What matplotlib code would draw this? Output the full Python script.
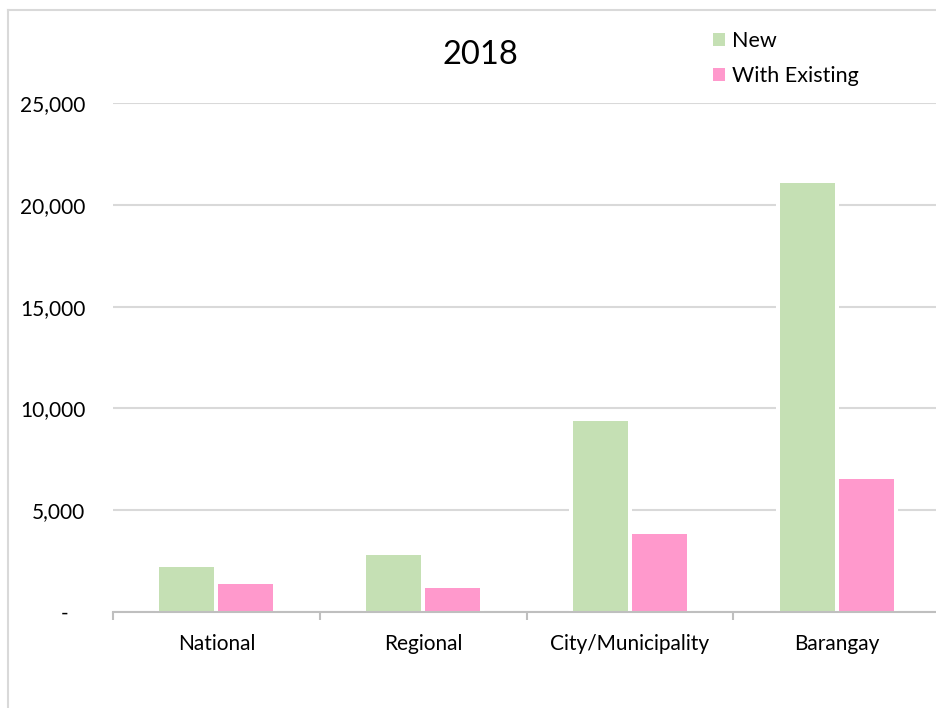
import matplotlib.pyplot as plt
import numpy as np
from matplotlib.lines import Line2D

plt.rcParams['font.family'] = ['Lato', 'DejaVu Sans']

categories = ["National", "Regional", "City/Municipality", "Barangay"]
new_vals = [2210, 2800, 9380, 21070]
existing_vals = [1375, 1180, 3830, 6530]
series_names = ["New", "With Existing"]
y_ticks = [0, 5000, 10000, 15000, 20000, 25000]

green = "#C5E0B4"
pink = "#FF99CC"
grid_col = "#D9D9D9"

W, H = 936, 708
fig = plt.figure(figsize=(W / 100, H / 100), dpi=100)

# plot area in pixels: x 113..940, y 103..612
ax = fig.add_axes([113 / W, (H - 612) / H, 827 / W, (612 - 103) / H])

px = 827 / 4  # pixels per category
fill_w = 55 / px
halo_w = 63 / px
off = 29.5 / px
pad = 4 / (509 / 25000)

x = np.arange(len(categories))
for vals, color, sign, name in [(new_vals, green, -1, series_names[0]),
                                (existing_vals, pink, 1, series_names[1])]:
    # white halo so gridlines break around the bars
    ax.bar(x + sign * off, np.array(vals) + pad, width=halo_w, color='white',
           edgecolor='none', zorder=2)
    ax.bar(x + sign * off, vals, width=fill_w, color=color, edgecolor='none',
           zorder=3, label=name)

ax.set_xlim(-0.5, 3.5)
ax.set_ylim(0, 25000)
ax.set_yticks(y_ticks)
ax.set_yticklabels(["-   "] + [f"{v:,}" for v in y_ticks[1:]])
ax.yaxis.grid(True, color=grid_col, linewidth=1.5, zorder=1)
ax.set_axisbelow(True)

ax.set_xticks(x)
ax.set_xticklabels(categories)
ax.set_xticks(np.arange(-0.5, 4, 1), minor=True)
ax.tick_params(axis='x', which='major', length=0, pad=16, labelsize=15)
ax.tick_params(axis='x', which='minor', length=6, width=1.5, color="#BFBFBF",
               direction='out')
ax.tick_params(axis='y', length=0, pad=20, labelsize=15)

for s in ['left', 'right', 'top']:
    ax.spines[s].set_visible(False)
ax.spines['bottom'].set_color("#BFBFBF")
ax.spines['bottom'].set_linewidth(1.5)
ax.spines['bottom'].set_zorder(5)

fig.text(480 / W, 1 - 55 / H, "2018", ha='center', va='center', fontsize=23.5)

fig.legend(loc='upper left', bbox_to_anchor=(694 / W, 1 - 12 / H),
           frameon=False, fontsize=15.5, handlelength=0.55, handleheight=0.55,
           handletextpad=0.3, labelspacing=0.7)

# outer chart frame
fig.add_artist(Line2D([8 / W, 8 / W], [0, 1 - 10 / H], color=grid_col,
                      linewidth=1.5, transform=fig.transFigure))
fig.add_artist(Line2D([8 / W, 1], [1 - 10 / H, 1 - 10 / H], color=grid_col,
                      linewidth=1.5, transform=fig.transFigure))

fig.savefig("out.png", dpi=100)
